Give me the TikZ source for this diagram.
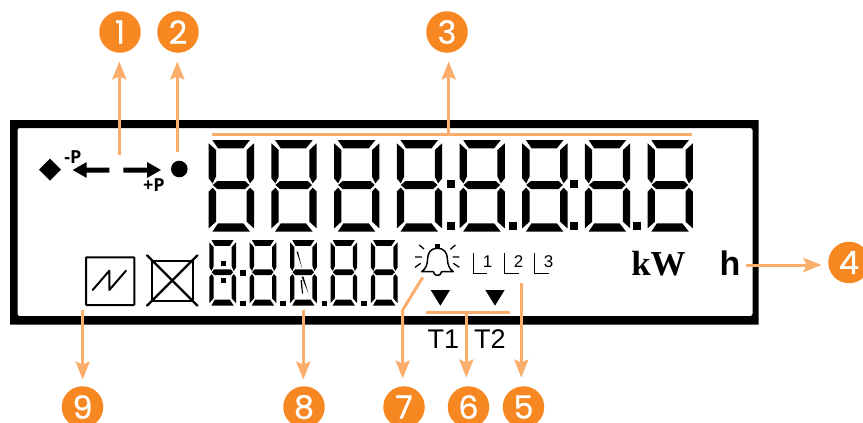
\documentclass[tikz,border=0pt]{standalone}
\usepackage{fontspec}
\usetikzlibrary{arrows.meta}
\setmainfont{Liberation Sans}
\newfontfamily\numfont[FakeBold=0.6]{Poppins}
\newfontfamily\lblfont{Open Sans}
\newfontfamily\serfont{Liberation Serif}
\definecolor{badge}{HTML}{F68721}
\definecolor{lead}{HTML}{FBAE6C}
\tikzset{
  badgenode/.style={circle,fill=badge,minimum size=41.5pt,inner sep=0pt,text=white,font=\numfont\fontsize{32}{32}\selectfont},
  leadline/.style={draw=lead,line width=3pt},
  leadarrow/.style={leadline,-{Stealth[length=18pt,width=14pt,inset=3pt]}},
  txtnode/.style={inner sep=0pt,anchor=base},
}
\newcommand{\lcddigit}[4]{%
 \begin{scope}[shift={(#1,#2)},xscale=#3/136,yscale=#4/275]
  \fill (11,0)--(124,0)--(104,25)--(28,25)--cycle;
  \fill (11,275)--(124,275)--(104,250)--(28,250)--cycle;
  \fill (12,135)--(26,123)--(109,123)--(122,135)--(109,147)--(26,147)--cycle;
  \fill (0,10)--(22,30)--(22,110)--(12,130)--(0,115)--cycle;
  \fill (136,10)--(114,30)--(114,110)--(124,130)--(136,115)--cycle;
  \fill (0,155)--(12,143)--(22,155)--(22,245)--(0,265)--cycle;
  \fill (136,155)--(124,143)--(114,155)--(114,245)--(136,265)--cycle;
 \end{scope}}
\newcommand{\lcddot}[3]{\fill (#1,#2) rectangle +(#3,#3);}
\begin{document}
\begin{tikzpicture}[x=1pt,y=-1pt]
\useasboundingbox (0,0) rectangle (863,423);
\clip (0,0) rectangle (863,423);
\fill[white] (0,0) rectangle (863,423);
% frame
\fill[even odd rule] (10,120) rectangle (758.5,324.5) [rounded corners=2pt] (17.5,128) rectangle (752.5,316);
% large digits
\foreach \i in {0,...,7}{\pgfmathsetmacro{\dx}{208.7+62.7*\i}\lcddigit{\dx}{140}{45.3}{91.7}}
\foreach \p/\q in {447/180.3,447/222,509/222,570/180.3,570/222,633/222}{\lcddot{\p}{\q}{8}}
% small digits
\foreach \i in {0,...,4}{\pgfmathsetmacro{\dx}{209.3+40.4*\i}\lcddigit{\dx}{240}{26.7}{65.5}}
\foreach \p/\q in {220.5/260.7,220.5/277.7,240/270,240/300.7,280/300.7,321.5/300.7,361/300.7}{\lcddot{\p}{\q}{5.5}}
\fill (296.5,251.7)--(298,251.7)--(302,268)--cycle;
\fill (301.5,276.7)--(303.5,276.7)--(308.5,293.5)--cycle;
\fill (300.5,280)--(302,280)--(303,293.5)--(302,293.5)--cycle;
% left symbols
\fill (39,169.7)--(50,158.7)--(61,169.7)--(50,180.7)--cycle;
\fill (72.7,170)--(86.7,162)--(86.7,167.5)--(109.3,167.5)--(109.3,172.5)--(86.7,172.5)--(86.7,178)--cycle;
\fill (161,170)--(147,162)--(147,167.5)--(123.3,167.5)--(123.3,172.5)--(147,172.5)--(147,178)--cycle;
\fill (179.3,169) circle (8.3);
\node[txtnode] (mp) at (73,163) {\lblfont\bfseries\fontsize{18}{18}\selectfont -P};
\node[txtnode] (pp) at (154,191) {\lblfont\bfseries\fontsize{18}{18}\selectfont +P};
% line box and crossed box
\draw[line width=2pt,rounded corners=0.8pt] (86,257.3) rectangle (134.3,305);
\draw[line width=2pt,line join=round,line cap=round] (92.7,290)--(109.3,270.7)--(109.3,290)--(126,270.7);
\draw[line width=2.2pt] (151.7,260.7) rectangle (192.7,300.7);
\draw[line width=2.2pt,line cap=round] (147,255.3)--(197.5,305.7) (197.5,255.3)--(147,305.7);
% bell and phase marks
\begin{scope}[shift={(400,235)},scale=1/3]
 \fill (105,27) rectangle (120,39);
 \draw[line width=1.5pt,line join=round] (112,40) .. controls (90,40) and (84,55) .. (83,70) .. controls (82,90) and (78,100) .. (65,110) -- (100,110) .. controls (102,125) and (123,125) .. (125,110) -- (160,110) .. controls (147,100) and (143,90) .. (142,70) .. controls (141,55) and (135,40) .. (112,40) -- cycle;
 \draw[line width=1.3pt] (58,30)--(72,42) (45,66)--(66,66) (45,97)--(62,85) (166,30)--(151,43) (178,66)--(158,66) (178,97)--(160,85);
 \draw[line width=1.4pt] (220,55)--(220,116)--(262,116) (314,55)--(314,116)--(356,116) (404,55)--(404,116)--(446,116);
 \fill (92,165)--(150,165)--(121,212)--cycle;
 \fill (256,165)--(314,165)--(285,212)--cycle;
\end{scope}
\node[txtnode] (l1) at (487.5,267.5) {\fontsize{17}{17}\selectfont 1};
\node[txtnode] (l2) at (518.5,267.5) {\fontsize{17}{17}\selectfont 2};
\node[txtnode] (l3) at (548.5,267.5) {\fontsize{17}{17}\selectfont 3};
\node[txtnode] (t1) at (443.5,348.5) {\fontsize{27}{27}\selectfont T1};
\node[txtnode] (t2) at (490,348.5) {\fontsize{27}{27}\selectfont T2};
\node[txtnode] (kw) at (658.5,275) {\serfont\bfseries\fontsize{35}{35}\selectfont kW};
\node[txtnode] (hh) at (730,275) {\bfseries\fontsize{34}{34}\selectfont h};
% badges
\node[badgenode] (c1) at (120,32) {1};
\node[badgenode] (c2) at (178,32) {2};
\node[badgenode] (c3) at (447,32) {3};
\node[badgenode] (c4) at (849,262.5) {4};
\node[badgenode] (c5) at (523.5,407) {5};
\node[badgenode] (c6) at (468.5,407) {6};
\node[badgenode] (c7) at (404,407) {7};
\node[badgenode] (c8) at (304,407) {8};
\node[badgenode] (c9) at (82.5,407) {9};
% connector ends
\coordinate (s1) at (119.3,154.5);
\coordinate (s2) at (177.3,152);
\coordinate (b3a) at (212,134.7);
\coordinate (b3b) at (691.7,134.7);
\coordinate (s3) at (448.7,134.7);
\coordinate (s4) at (746,265);
\coordinate (s5) at (521.3,283.3);
\coordinate (b6a) at (426,312.3);
\coordinate (b6b) at (510,312.3);
\coordinate (s6) at (466.3,312.3);
\coordinate (s7) at (422.7,277.3);
\coordinate (k7) at (402.7,310);
\coordinate (s8) at (303.3,310);
\coordinate (s9) at (82.7,310);
% connectors
\draw[leadline] (b3a)--(b3b);
\draw[leadline] (b6a)--(b6b);
\draw[leadarrow,shorten >=8.5pt] (s1)--(s1|-c1.south);
\draw[leadarrow,shorten >=8.5pt] (s2)--(s2|-c2.south);
\draw[leadarrow,shorten >=8.5pt] (s3)--(s3|-c3.south);
\draw[leadarrow,shorten >=6.5pt] (s4)--(s4-|c4.west);
\draw[leadarrow,shorten >=8.5pt] (s5)--(s5|-c5.north);
\draw[leadarrow,shorten >=8.5pt] (s6)--(s6|-c6.north);
\draw[leadarrow,shorten >=7.5pt] (s7)--(k7)--(k7|-c7.north);
\draw[leadarrow,shorten >=6.5pt] (s8)--(s8|-c8.north);
\draw[leadarrow,shorten >=6.5pt] (s9)--(s9|-c9.north);
\end{tikzpicture}
\end{document}
